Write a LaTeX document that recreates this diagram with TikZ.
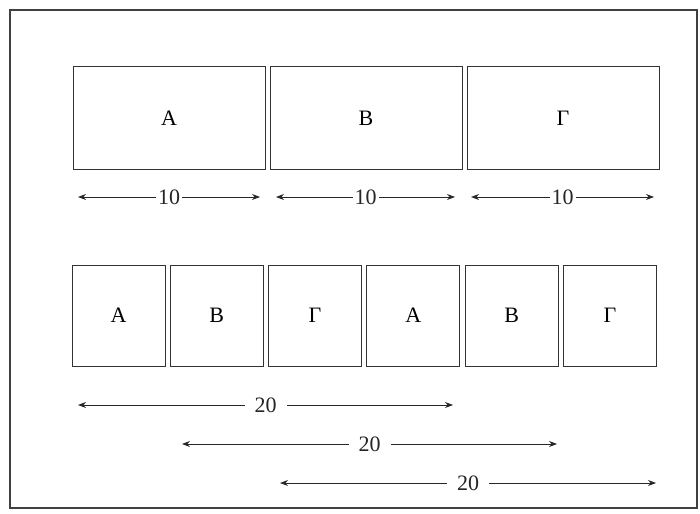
\documentclass[tikz,border=0pt]{standalone}
\usepackage{fontspec}
\setmainfont{Liberation Serif}
\usetikzlibrary{arrows.meta}
\begin{document}
\begin{tikzpicture}[x=1pt, y=-1pt, every node/.style={font=\fontsize{22}{26}\selectfont},
    box/.style={draw=black!80, line width=1pt, inner sep=0pt},
    dim/.style={black!85, line width=0.9pt, {Stealth[length=8pt,width=6pt]}-{Stealth[length=8pt,width=6pt]}},
    lbl/.style={fill=white, inner ysep=1pt}]
\useasboundingbox (0,0) rectangle (700,513);
% --- cornice ---
\draw[black!75, line width=1.2pt] (10,10) rectangle (697,508);
% --- prima riga ---
\begin{scope}
    \foreach \name/\x/\t in {t1/169/Α, t2/366/Β, t3/563/Γ} {
        \node[box, minimum width=192, minimum height=102] (\name) at (\x,118) {\t};
    }
    \foreach \i/\a/\b in {1/78/260, 2/276/455, 3/471/654} {
        \coordinate (u\i l) at (\a,197);
        \coordinate (u\i r) at (\b,197);
        \draw[dim] (u\i l) -- node[lbl, inner xsep=2pt] {10} (u\i r);
    }
\end{scope}
% --- seconda riga ---
\begin{scope}
    \foreach \t [count=\i from 1] in {Α,Β,Γ,Α,Β,Γ} {
        \node[box, minimum width=93, minimum height=101] (b\i) at ({20.2+98.3*\i},315.5) {\t};
    }
    \foreach \i/\a/\b/\y in {1/78/453/405, 2/182/557/444, 3/280/656/483} {
        \coordinate (v\i l) at (\a,\y);
        \coordinate (v\i r) at (\b,\y);
        \draw[dim] (v\i l) -- node[lbl, inner xsep=10pt] {20} (v\i r);
    }
\end{scope}
\end{tikzpicture}
\end{document}
